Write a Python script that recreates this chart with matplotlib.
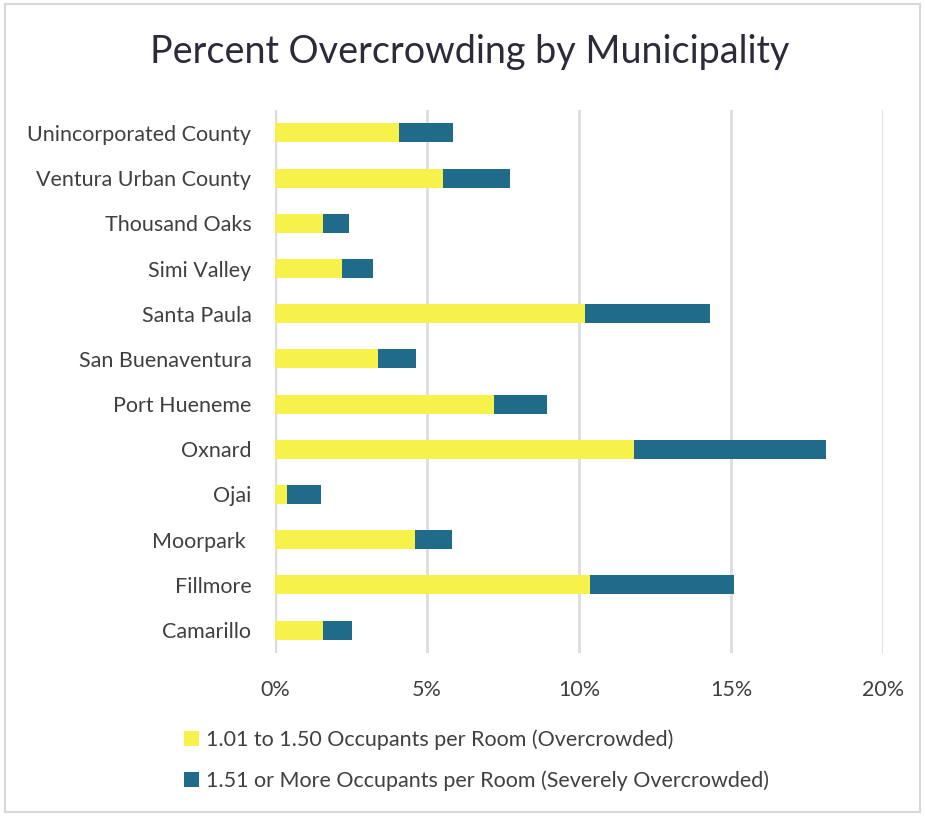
import matplotlib
matplotlib.use("Agg")
import matplotlib.pyplot as plt
from matplotlib.patches import Rectangle, Patch
from matplotlib.ticker import FuncFormatter

# -------------------------
# DATA (percent of households)
# -------------------------
places = ["Camarillo", "Fillmore", "Moorpark ", "Ojai", "Oxnard", "Port Hueneme",
          "San Buenaventura", "Santa Paula", "Simi Valley", "Thousand Oaks",
          "Ventura Urban County", "Unincorporated County"]
overcrowded = [1.58, 10.37, 4.60, 0.39, 11.80, 7.20, 3.39, 10.19, 2.20, 1.58, 5.53, 4.08]
severe = [0.95, 4.73, 1.21, 1.12, 6.34, 1.74, 1.26, 4.13, 1.02, 0.85, 2.20, 1.78]
xticks = [0, 5, 10, 15, 20]

label_over = "1.01 to 1.50 Occupants per Room (Overcrowded)"
label_severe = "1.51 or More Occupants per Room (Severely Overcrowded)"

yellow = "#F7F14C"
teal = "#216B8A"
text_col = "#404040"

plt.rcParams["font.family"] = ["Lato", "DejaVu Sans"]

fig = plt.figure(figsize=(9.25, 8.17), dpi=100)
ax = fig.add_axes([0.2973, 0.2012, 0.6573, 0.6637])

ypos = list(range(len(places)))
ax.barh(ypos, overcrowded, height=0.42, color=yellow, zorder=3)
ax.barh(ypos, severe, left=overcrowded, height=0.42, color=teal, zorder=3)

ax.set_xlim(0, 20)
ax.set_ylim(-0.5, len(places) - 0.5)
ax.set_xticks(xticks)
ax.xaxis.set_major_formatter(FuncFormatter(lambda v, p: f"{v:.0f}%"))
ax.set_yticks(ypos)
ax.set_yticklabels(places)
ax.grid(axis="x", color="#DCDCE2", linewidth=2, zorder=0)
for s in ax.spines.values():
    s.set_visible(False)
ax.axvline(0, color="#DCDCE2", linewidth=2.5, zorder=1)
ax.tick_params(axis="both", length=0, labelsize=15.5, colors=text_col)
ax.tick_params(axis="x", pad=20)
ax.tick_params(axis="y", pad=17)

fig.text(0.508, 0.936, "Percent Overcrowding by Municipality", ha="center", va="center",
         fontsize=27.2, color="#2B2B3A")

handles = [Patch(facecolor=yellow, label=label_over), Patch(facecolor=teal, label=label_severe)]
fig.legend(handles=handles, loc="upper left", bbox_to_anchor=(0.190, 0.118),
           bbox_transform=fig.transFigure, frameon=False, fontsize=15.5,
           labelcolor=text_col, handlelength=0.7, handleheight=0.7, handletextpad=0.3,
           labelspacing=0.95, borderaxespad=0)

fig.patches.append(Rectangle((0.005, 0.006), 0.99, 0.989, transform=fig.transFigure,
                             fill=False, edgecolor="#D9D9D9", linewidth=1.5))

fig.savefig("out.png", dpi=100)
